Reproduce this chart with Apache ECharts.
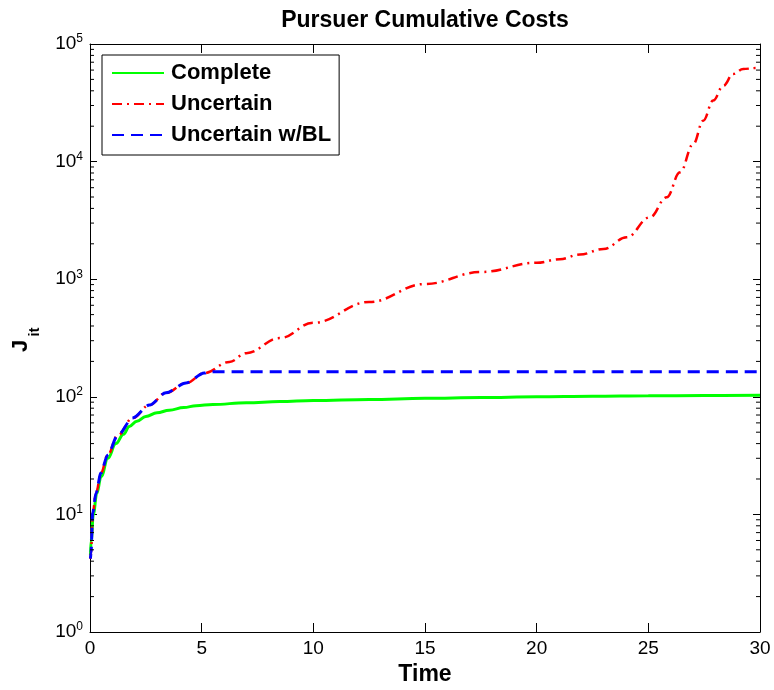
<!DOCTYPE html>
<html>
<head>
<meta charset="utf-8">
<script src="https://cdn.jsdelivr.net/npm/echarts@6/dist/echarts.min.js"></script>
<style>
html,body{margin:0;padding:0;background:#fff;}
#chart{width:774px;height:690px;}
</style>
</head>
<body>
<div id="chart"></div>
<script>
// ---- data ----
const TITLE = 'Pursuer Cumulative Costs';
const SERIES_NAMES = ['Complete', 'Uncertain', 'Uncertain w/BL'];
const X_TICKS = [0, 5, 10, 15, 20, 25, 30];
const Y_TICK_EXPONENTS = [0, 1, 2, 3, 4, 5];

const TIME_COMPLETE = [0.02, 0.05, 0.15, 0.3, 0.5, 0.8, 1.16, 1.5, 1.76, 2.1, 2.5, 3.0, 3.55, 4.2, 4.75, 5.5, 7, 8.5, 10, 12.5, 15, 17.5, 20, 22.5, 25, 27.5, 30];
const COST_COMPLETE = [4.5, 6, 10, 15, 21, 30, 40, 48, 56, 62, 68, 73, 77, 81, 84, 86, 89, 91, 93, 95, 97, 98.5, 100, 101, 102, 102.5, 103];

const TIME_UNCERTAIN = [0.02, 0.045, 0.12, 0.27, 0.49, 0.79, 1.24, 1.91, 2.66, 3.4, 4.3, 5.12, 6.24, 7.0, 8.5, 10, 12.5, 15, 17.5, 20, 21.04, 21.94, 22.99, 24.03, 25.07, 25.82, 26.42, 27.01, 27.46, 27.9, 28.36, 28.8, 29.25, 29.85, 30];
const COST_UNCERTAIN = [4.2, 4.7, 10.3, 15.2, 22.5, 32, 47, 66, 85, 108, 131, 159, 198, 235, 316, 426, 640, 910, 1150, 1380, 1480, 1620, 1807, 2270, 3360, 4970, 8100, 14100, 22300, 33000, 44200, 55600, 61300, 62500, 63000];

const TIME_BL = [0.02, 0.045, 0.12, 0.27, 0.49, 0.79, 1.24, 1.91, 2.66, 3.4, 4.3, 5.12, 5.3, 10, 20, 30];
const COST_BL = [4.2, 4.7, 10.3, 15.2, 22.5, 32, 47, 66, 85, 108, 131, 159, 163, 163, 163, 163];

// ---- helpers ----
const zip = (xs, ys) => xs.map((x, i) => [x, ys[i]]);
const MINOR_TICKS = [];
Y_TICK_EXPONENTS.slice(0, -1).forEach(e => { for (let k = 2; k <= 9; k++) MINOR_TICKS.push(k * Math.pow(10, e)); });

const FONT = 'Liberation Sans, Arial, Helvetica, sans-serif';
const chart = echarts.init(document.getElementById('chart'));

const xAxisBase = {
  type: 'value', min: X_TICKS[0], max: X_TICKS[X_TICKS.length - 1], interval: 5,
  axisLine: { show: true, onZero: false, lineStyle: { color: '#000', width: 1 } },
  axisTick: { show: true, inside: true, length: 9, lineStyle: { color: '#000' } },
  splitLine: { show: false }
};
const yAxisBase = {
  type: 'log', logBase: 10,
  min: Math.pow(10, Y_TICK_EXPONENTS[0]), max: Math.pow(10, Y_TICK_EXPONENTS[Y_TICK_EXPONENTS.length - 1]),
  splitNumber: 5,
  axisLine: { show: true, onZero: false, lineStyle: { color: '#000', width: 1 } },
  axisTick: { show: true, inside: true, length: 7, lineStyle: { color: '#000' } },
  splitLine: { show: false }
};

const option = {
  animation: false,
  backgroundColor: '#fff',
  grid: { left: 90, right: 14, top: 44, bottom: 58, containLabel: false, outerBoundsMode: 'none' },
  legend: {
    data: SERIES_NAMES,
    orient: 'vertical',
    left: 102, top: 55,
    padding: [6, 8, 8, 9],
    itemWidth: 52, itemHeight: 14, itemGap: 7,
    backgroundColor: '#fff',
    borderColor: '#000', borderWidth: 1, borderRadius: 0,
    itemStyle: { opacity: 0 },
    textStyle: { color: '#000', fontFamily: FONT, fontWeight: 'bold', fontSize: 22, lineHeight: 24, padding: [0, 0, 0, 2] }
  },
  xAxis: [
    Object.assign({}, xAxisBase, {
      position: 'bottom',
      name: 'Time', nameLocation: 'middle', nameGap: 30,
      nameTextStyle: { color: '#000', fontFamily: FONT, fontWeight: 'bold', fontSize: 23 },
      axisLabel: { color: '#000', fontFamily: FONT, fontSize: 19, margin: 7 }
    }),
    Object.assign({}, xAxisBase, { position: 'top', axisLabel: { show: false } })
  ],
  yAxis: [
    Object.assign({}, yAxisBase, {
      position: 'left',
      axisLabel: {
        color: '#000', fontFamily: FONT, margin: 7,
        formatter: v => '{b|10}{e|' + Math.round(Math.log10(v)) + '}',
        rich: {
          b: { fontFamily: FONT, fontSize: 19, lineHeight: 22, color: '#000' },
          e: { fontFamily: FONT, fontSize: 12, lineHeight: 12, verticalAlign: 'top', color: '#000' }
        }
      }
    }),
    Object.assign({}, yAxisBase, { position: 'right', axisLabel: { show: false } })
  ],
  graphic: [
    { type: 'text', x: 425, y: 21, z: 100,
      style: { text: TITLE, fill: '#000', textAlign: 'center', textVerticalAlign: 'middle', font: 'bold 23px ' + FONT } },
    { type: 'text', x: 21, y: 346, rotation: Math.PI / 2, z: 100,
      style: { text: 'J', fill: '#000', textAlign: 'center', textVerticalAlign: 'middle', font: 'bold 22px ' + FONT } },
    { type: 'text', x: 35, y: 332, rotation: Math.PI / 2, z: 100,
      style: { text: 'it', fill: '#000', textAlign: 'center', textVerticalAlign: 'middle', font: 'bold 15px ' + FONT } }
  ],
  series: [
    {
      name: SERIES_NAMES[0], type: 'line', data: zip(TIME_COMPLETE, COST_COMPLETE),
      showSymbol: false, symbol: 'none', smooth: 0.4, smoothMonotone: 'x',
      lineStyle: { color: '#00ff00', width: 3, type: 'solid' }, itemStyle: { color: '#00ff00' }, z: 2
    },
    {
      name: SERIES_NAMES[1], type: 'line', data: zip(TIME_UNCERTAIN, COST_UNCERTAIN),
      showSymbol: false, symbol: 'none', smooth: 0.4, smoothMonotone: 'x',
      lineStyle: { color: '#ff0000', width: 2.5, type: [10, 5, 2, 5] }, itemStyle: { color: '#ff0000' }, z: 3
    },
    {
      name: SERIES_NAMES[2], type: 'line', data: zip(TIME_BL, COST_BL),
      showSymbol: false, symbol: 'none', smooth: 0.3, smoothMonotone: 'x',
      lineStyle: { color: '#0000ff', width: 3, type: [12, 7] }, itemStyle: { color: '#0000ff' }, z: 4
    },
    {
      name: 'minorTicks', type: 'custom', silent: true, clip: false, z: 10,
      xAxisIndex: 0, yAxisIndex: 0,
      data: MINOR_TICKS.map(v => [0, v]),
      renderItem: function (params, api) {
        const cs = params.coordSys;
        const y = api.coord([0, api.value(1)])[1];
        const st = { stroke: '#000', lineWidth: 1 };
        return {
          type: 'group',
          children: [
            { type: 'line', shape: { x1: cs.x, y1: y, x2: cs.x + 4, y2: y }, style: st },
            { type: 'line', shape: { x1: cs.x + cs.width - 4, y1: y, x2: cs.x + cs.width, y2: y }, style: st }
          ]
        };
      }
    }
  ]
};
chart.setOption(option);
</script>
</body>
</html>
